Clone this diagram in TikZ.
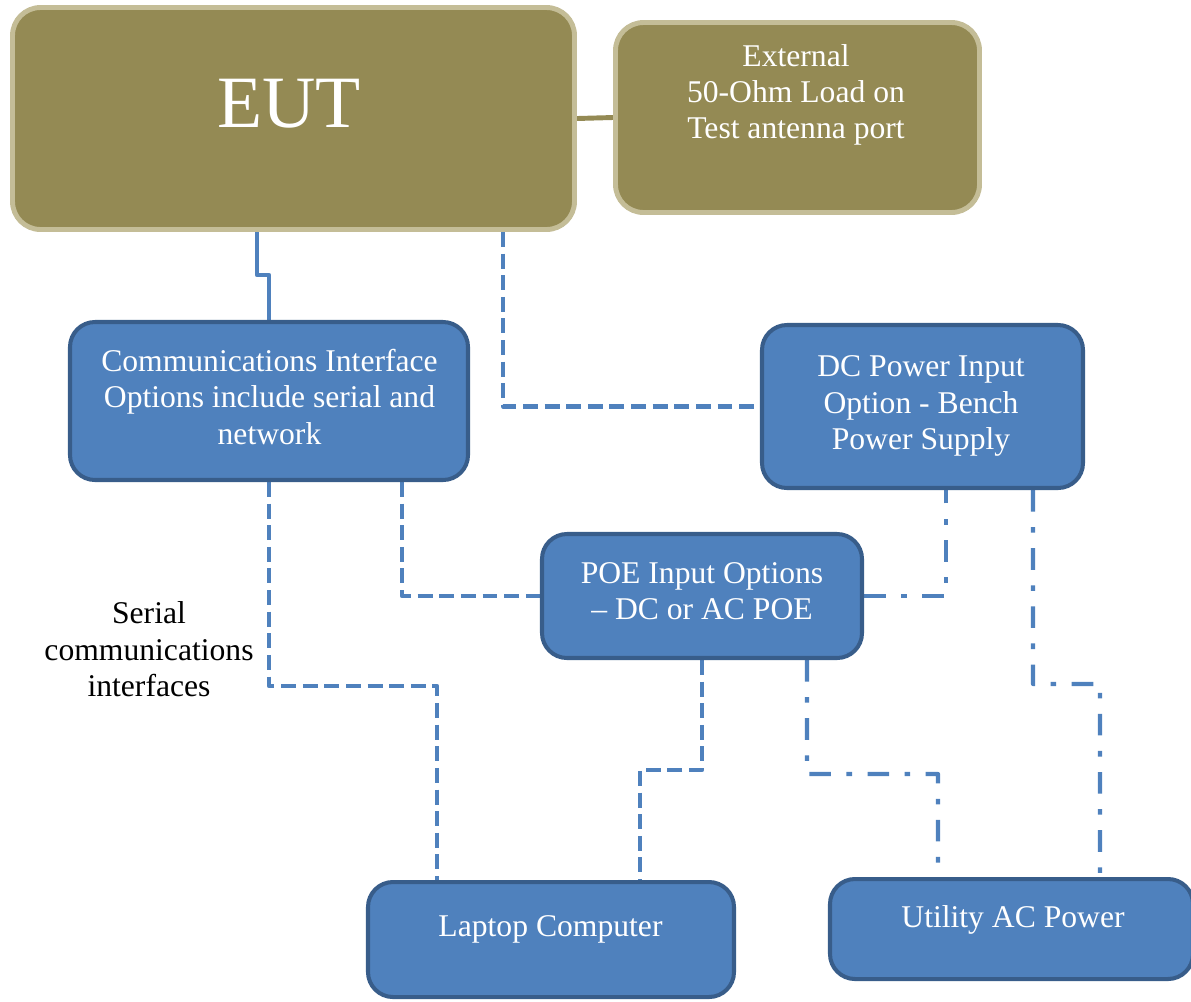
\documentclass[tikz,border=0pt]{standalone}
\usepackage{fontspec}
\setmainfont{Liberation Serif}
\usetikzlibrary{backgrounds}

\definecolor{eutolive}{HTML}{948A54}
\definecolor{euttan}{HTML}{C4BD97}
\definecolor{optblue}{HTML}{4F81BD}
\definecolor{optdark}{HTML}{385D8A}

\begin{document}
\begin{tikzpicture}
[olivebox/.style={shape=rectangle,rounded corners=0.56cm,fill=eutolive,draw=euttan,line width=2.8pt},%
  bluebox/.style={shape=rectangle,rounded corners=0.5cm,fill=optblue,draw=optdark,line width=2.3pt},%
  boxtext/.style={text=white,align=center,inner sep=0pt,font=\fontsize{18}{20.7}\selectfont},%
  linksolid/.style={draw=optblue,line width=2.4pt,line join=round},%
  linkdash/.style={linksolid,dash pattern=on 8.5pt off 3.8pt},%
  linkdashdot/.style={linksolid,dash pattern=on 12.3pt off 8.8pt on 3.2pt off 8.8pt}]
%%
%% Canvas
\useasboundingbox (0,0) rectangle (23.82,-20.02);
%%
%% Boxes
\node (eut) at (5.87,-2.37) [olivebox,minimum width=11.24cm,minimum height=4.44cm] {};
\node (ext) at (15.95,-2.35) [olivebox,minimum width=7.28cm,minimum height=3.8cm] {};
\foreach \nodename/\x/\y/\w/\h in {
  comm/5.38/-8.02/7.96/3.16, dc/18.45/-8.13/6.42/3.26, poe/14.04/-11.92/6.4/2.48,
  laptop/11.02/-18.79/7.32/2.3, util/20.23/-18.58/7.26/2.0}
{
  \node (\nodename) at (\x,\y) [bluebox,minimum width=\w cm,minimum height=\h cm] {};
}
%%
%% Box texts
\node (eut-text) at (5.78,-2.08) [boxtext,font=\fontsize{42}{48}\selectfont] {EUT};
\node (ext-text) at (15.92,-1.9) [boxtext] {External\\50-Ohm Load on\\Test antenna port};
\node (comm-text) at (5.39,-7.94) [boxtext] {Communications Interface\\Options include serial and\\network};
\node (dc-text) at (18.42,-8.12) [boxtext] {DC Power Input\\Option - Bench\\Power Supply};
\node (poe-text) at (14.04,-11.82) [boxtext] {POE Input Options\\– DC or AC POE};
\node (laptop-text) at (11.01,-18.58) [boxtext] {Laptop Computer};
\node (util-text) at (20.26,-18.4) [boxtext] {Utility AC Power};
\node (serial-text) at (2.98,-12.99) [boxtext,text=black] {Serial\\communications\\interfaces};
%%
%% Connectors
\begin{scope}[on background layer]
  \draw[draw=eutolive,line width=2.8pt] (eut.east) -- (ext.west);
  \draw[linksolid] ([xshift=-0.73cm]eut.south) |- (5.38,-5.5) -- (comm.north);
  \draw[linkdash] ([xshift=4.19cm]eut.south) |- (dc.west);
  \draw[linkdash] (comm.south) -- (5.38,-13.72) -| ([xshift=-2.28cm]laptop.north);
  \draw[linkdash] ([xshift=2.66cm]comm.south) |- (poe.west);
  \draw[linkdash] (poe.south) -- (14.04,-15.4) -| ([xshift=1.78cm]laptop.north);
  \draw[linkdashdot] (poe.east) -| ([xshift=0.47cm]dc.south);
  \draw[linkdashdot] ([xshift=2.1cm]poe.south) -- (16.14,-15.48) -| ([xshift=-1.47cm]util.north);
  \draw[linkdashdot] ([xshift=2.21cm]dc.south) -- (20.66,-13.68) -| ([xshift=1.77cm]util.north);
\end{scope}
\end{tikzpicture}
\end{document}
